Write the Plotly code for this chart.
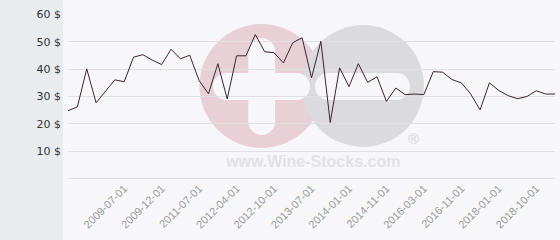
import plotly.graph_objects as go

# ---- data ----
prices = [24.8, 26.2, 40.1, 27.7, 31.9, 36.1, 35.4, 44.4, 45.3, 43.3,
          41.7, 47.3, 43.8, 45.1, 35.8, 31.0, 42.0, 29.1, 44.9, 44.9,
          52.7, 46.4, 46.0, 42.3, 49.7, 51.5, 36.8, 50.2, 20.5, 40.5,
          33.6, 42.0, 35.2, 37.2, 28.2, 33.1, 30.7, 30.9, 30.7, 39.1,
          38.9, 36.2, 35.0, 30.9, 25.1, 35.0, 32.2, 30.3, 29.2, 30.0,
          32.1, 30.9, 30.9]
x_tick_index = [6, 10, 14, 18, 22, 26, 30, 34, 38, 42, 46, 50]
x_tick_labels = ["2009-07-01", "2009-12-01", "2011-07-01", "2012-04-01",
                 "2012-10-01", "2013-07-01", "2014-01-01", "2014-11-01",
                 "2016-03-01", "2016-11-01", "2018-01-01", "2018-10-01"]
y_tick_values = [0, 10, 20, 30, 40, 50, 60]
y_tick_labels = ["", "10 $", "20 $", "30 $", "40 $", "50 $", "60 $"]

W, H = 560, 240
ML, MR, MT, MB = 68, 5, 14, 61
PW, PH = W - ML - MR, H - MT - MB
Y_LO, Y_HI = -0.2, 60.2


def px(x):
    return (x - ML) / PW


def py(y):
    return (H - MB - y) / PH


fig = go.Figure()
fig.add_trace(go.Scatter(
    x=list(range(len(prices))), y=prices, mode="lines",
    line=dict(color="#3b2433", width=1), hoverinfo="skip", showlegend=False))

shapes = []
# left grey panel
shapes.append(dict(type="rect", xref="paper", yref="paper", layer="below",
                   x0=px(0), x1=px(63), y0=py(H), y1=py(0),
                   fillcolor="#e8ecef", line=dict(width=0)))


def circle(cx, cy, r, color):
    return dict(type="circle", xref="paper", yref="paper", layer="below",
                x0=px(cx - r), x1=px(cx + r), y0=py(cy + r), y1=py(cy - r),
                fillcolor=color, line=dict(width=0))


def rect(x0, y0, x1, y1, color):
    return dict(type="rect", xref="paper", yref="paper", layer="below",
                x0=px(x0), x1=px(x1), y0=py(y1), y1=py(y0),
                fillcolor=color, line=dict(width=0))


def capsule_h(x0, x1, yc, r, color):
    return [circle(x0 + r, yc, r, color), circle(x1 - r, yc, r, color),
            rect(x0 + r, yc - r, x1 - r, yc + r, color)]


def capsule_v(xc, y0, y1, r, color):
    return [circle(xc, y0 + r, r, color), circle(xc, y1 - r, r, color),
            rect(xc - r, y0 + r, xc + r, y1 - r, color)]


# watermark logo
shapes.append(circle(261.5, 86, 62, "#e9cfd6"))
shapes.append(circle(363, 86, 61, "#dbdbdd"))
white = "#f7f7f9"
shapes += capsule_v(261.7, 38, 135, 13.4, white)
shapes += capsule_h(213, 310, 86.5, 13.5, white)
shapes += capsule_h(315, 410, 86.5, 13.5, white)

fig.update_layout(
    width=W, height=H,
    margin=dict(l=ML, r=MR, t=MT, b=MB, pad=0),
    paper_bgcolor="#f7f7f9",
    plot_bgcolor="rgba(0,0,0,0)",
    shapes=shapes,
    xaxis=dict(range=[0, len(prices) - 1], tickmode="array",
               tickvals=x_tick_index, ticktext=x_tick_labels,
               tickangle=-45, showgrid=False, zeroline=False, showline=False,
               tickfont=dict(family="Liberation Sans, Arial", size=11, color="#9a9a9a")),
    yaxis=dict(range=[Y_LO, Y_HI], tickmode="array", tickvals=y_tick_values,
               ticktext=y_tick_labels, showgrid=True, gridcolor="#e0e0e3",
               gridwidth=1, zeroline=True, zerolinecolor="#e0e0e3",
               zerolinewidth=1, showline=False,
               ticklabelstandoff=6,
               tickfont=dict(family="DejaVu Sans", size=11, color="#333333")),
    annotations=[
        dict(text="<b>www.Wine-Stocks.com</b>", xref="paper", yref="paper",
             x=px(312), y=py(161), xanchor="center", yanchor="middle",
             showarrow=False,
             font=dict(family="Liberation Sans, Arial", size=16, color="#e2e2e4")),
        dict(text="®", xref="paper", yref="paper", x=px(413), y=py(138),
             xanchor="center", yanchor="middle", showarrow=False,
             font=dict(family="Liberation Sans, Arial", size=15, color="#d2d2d4")),
    ],
)

fig.write_html("out.html")
